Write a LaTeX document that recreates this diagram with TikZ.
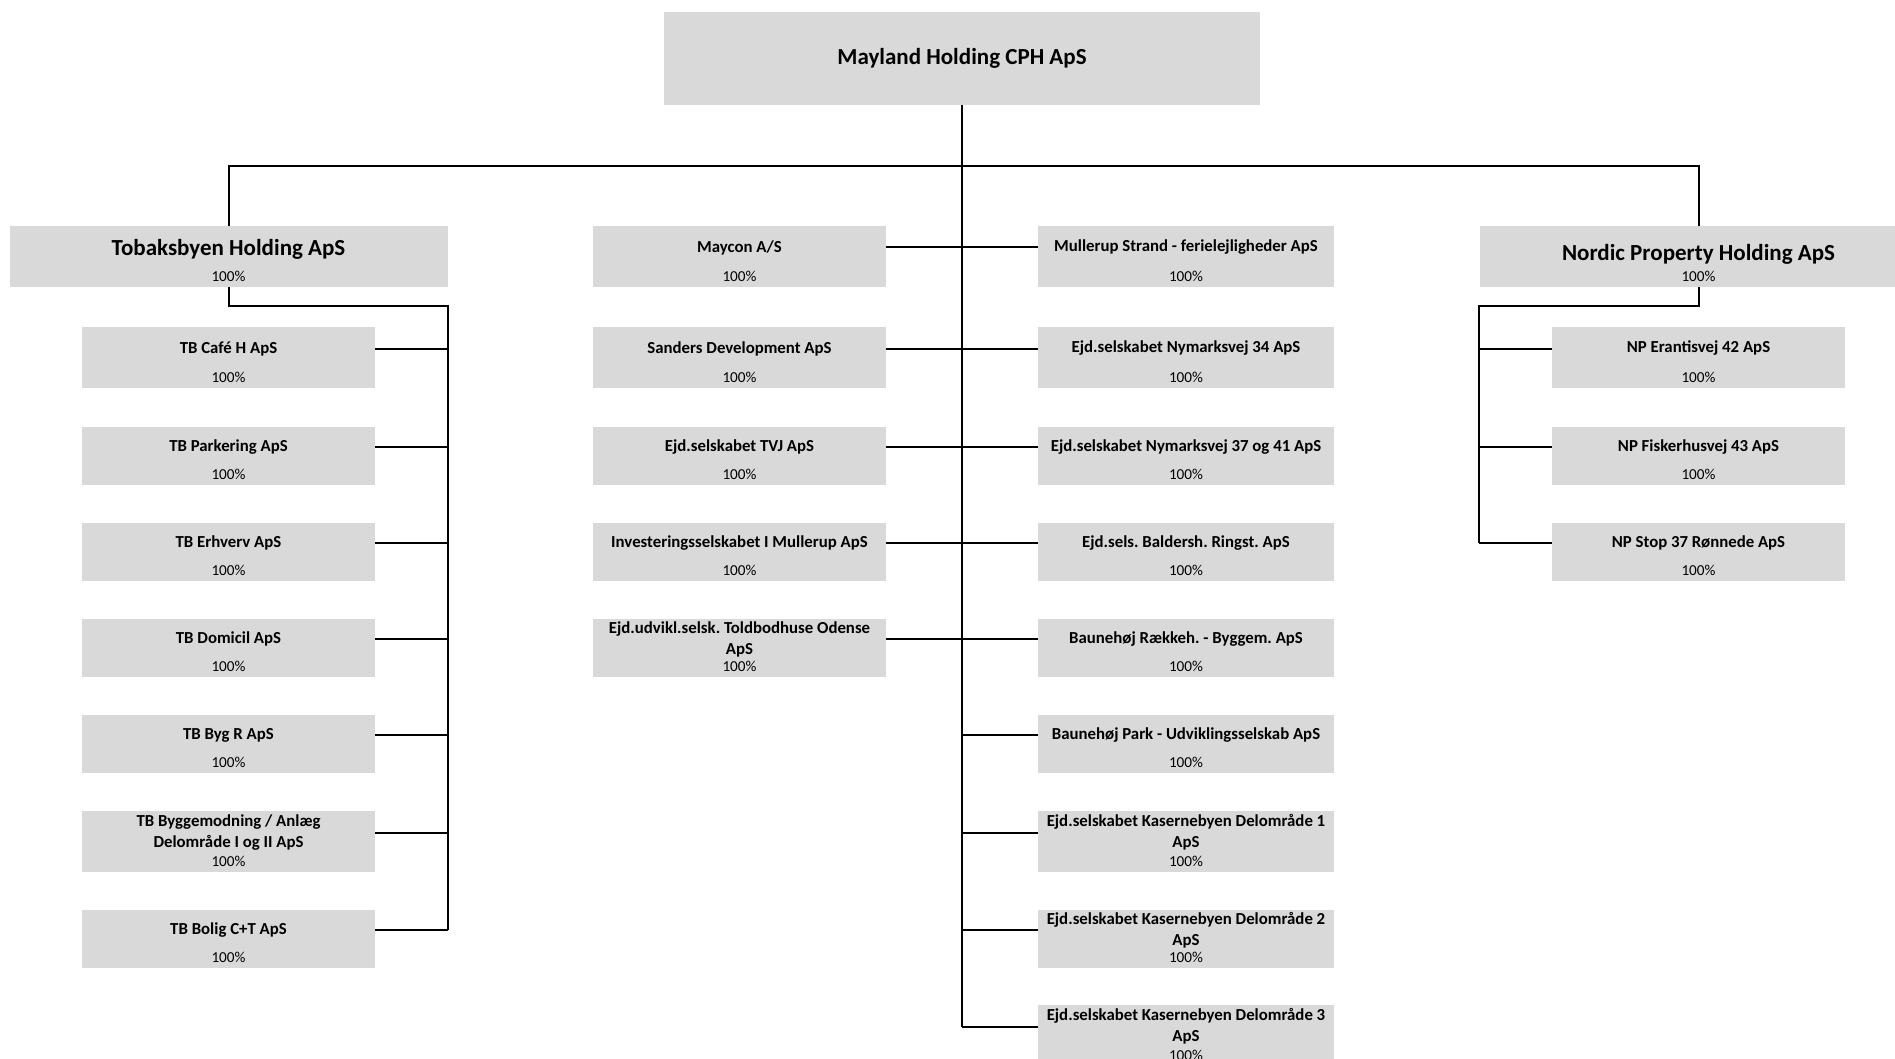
\documentclass[tikz,border=0pt]{standalone}
\usepackage{fontspec}
\setmainfont{Carlito}
\usepackage{tikz}
\frenchspacing
\definecolor{boxgray}{HTML}{D9D9D9}
\tikzset{
  unit/.style={fill=boxgray, inner sep=0pt, minimum width=293pt, minimum height=58pt},
  tall/.style={minimum height=61pt},
  big/.style={font=\bfseries\fontsize{23}{27}\selectfont},
  ttl/.style={font=\bfseries\fontsize{16.8}{21}\selectfont, align=center, inner sep=0pt},
  pct/.style={font=\fontsize{15.2}{17}\selectfont, inner sep=0pt, anchor=base, yshift=5.5pt},
  link/.style={line width=2pt}
}
\begin{document}
\begin{tikzpicture}[x=1pt,y=-1pt]
\useasboundingbox (0,0) rectangle (1895,1059);
\clip (0,0) rectangle (1895,1059);
% owner
\node[unit, big, minimum width=596pt, minimum height=93pt] (mayland) at (962,58.5) {Mayland Holding CPH ApS};
% holdings
\node[unit, tall, minimum width=438pt, label={[ttl,big,yshift=7pt]center:Tobaksbyen Holding ApS}, label={[pct]south:100\%}] (tobaksbyen) at (228.5,256.5) {};
\node[unit, tall, minimum width=438pt, label={[ttl,big,yshift=2pt]center:Nordic Property Holding ApS}, label={[pct]south:100\%}] (nordic) at (1698.5,256.5) {};
% Tobaksbyen companies
\node[unit, tall, label={[ttl,yshift=9pt]center:TB Café H ApS}, label={[pct]south:100\%}] (tbcafe) at (228.5,357.5) {};
\node[unit, label={[ttl,yshift=9pt]center:TB Parkering ApS}, label={[pct]south:100\%}] (tbparkering) at (228.5,456) {};
\node[unit, label={[ttl,yshift=9pt]center:TB Erhverv ApS}, label={[pct]south:100\%}] (tberhverv) at (228.5,552) {};
\node[unit, label={[ttl,yshift=9pt]center:TB Domicil ApS}, label={[pct]south:100\%}] (tbdomicil) at (228.5,648) {};
\node[unit, label={[ttl,yshift=9pt]center:TB Byg R ApS}, label={[pct]south:100\%}] (tbbygr) at (228.5,744) {};
\node[unit, tall, label={[ttl,yshift=9pt]center:TB Byggemodning / Anlæg\\Delområde I og II ApS}, label={[pct]south:100\%}] (tbbyggemodning) at (228.5,841.5) {};
\node[unit, label={[ttl,yshift=9pt]center:TB Bolig C+T ApS}, label={[pct]south:100\%}] (tbbolig) at (228.5,939) {};
% middle left column
\node[unit, tall, label={[ttl,yshift=9pt]center:Maycon A/S}, label={[pct]south:100\%}] (maycon) at (739.5,256.5) {};
\node[unit, tall, label={[ttl,yshift=9pt]center:Sanders Development ApS}, label={[pct]south:100\%}] (sanders) at (739.5,357.5) {};
\node[unit, label={[ttl,yshift=9pt]center:Ejd.selskabet TVJ ApS}, label={[pct]south:100\%}] (tvj) at (739.5,456) {};
\node[unit, label={[ttl,yshift=9pt]center:Investeringsselskabet I Mullerup ApS}, label={[pct]south:100\%}] (investering) at (739.5,552) {};
\node[unit, label={[ttl,yshift=9pt]center:Ejd.udvikl.selsk. Toldbodhuse Odense\\ApS}, label={[pct]south:100\%}] (toldbodhuse) at (739.5,648) {};
% middle right column
\node[unit, tall, minimum width=296pt, label={[ttl,yshift=9pt]center:Mullerup Strand - ferielejligheder ApS}, label={[pct]south:100\%}] (mullerup) at (1186,256.5) {};
\node[unit, tall, minimum width=296pt, label={[ttl,yshift=9pt]center:Ejd.selskabet Nymarksvej 34 ApS}, label={[pct]south:100\%}] (nymarks34) at (1186,357.5) {};
\node[unit, minimum width=296pt, label={[ttl,yshift=9pt]center:Ejd.selskabet Nymarksvej 37 og 41 ApS}, label={[pct]south:100\%}] (nymarks37) at (1186,456) {};
\node[unit, minimum width=296pt, label={[ttl,yshift=9pt]center:Ejd.sels. Baldersh. Ringst. ApS}, label={[pct]south:100\%}] (baldersh) at (1186,552) {};
\node[unit, minimum width=296pt, label={[ttl,yshift=9pt]center:Baunehøj Rækkeh. - Byggem. ApS}, label={[pct]south:100\%}] (raekkeh) at (1186,648) {};
\node[unit, minimum width=296pt, label={[ttl,yshift=9pt]center:Baunehøj Park - Udviklingsselskab ApS}, label={[pct]south:100\%}] (baunepark) at (1186,744) {};
\node[unit, tall, minimum width=296pt, label={[ttl,yshift=9pt]center:Ejd.selskabet Kasernebyen Delområde 1\\ApS}, label={[pct]south:100\%}] (kaserne1) at (1186,841.5) {};
\node[unit, minimum width=296pt, label={[ttl,yshift=9pt]center:Ejd.selskabet Kasernebyen Delområde 2\\ApS}, label={[pct]south:100\%}] (kaserne2) at (1186,939) {};
\node[unit, tall, minimum width=296pt, label={[ttl,yshift=9pt]center:Ejd.selskabet Kasernebyen Delområde 3\\ApS}, label={[pct]south:100\%}] (kaserne3) at (1186,1035.5) {};
% Nordic companies
\node[unit, tall, label={[ttl,yshift=9pt]center:NP Erantisvej 42 ApS}, label={[pct]south:100\%}] (erantis) at (1698.5,357.5) {};
\node[unit, label={[ttl,yshift=9pt]center:NP Fiskerhusvej 43 ApS}, label={[pct]south:100\%}] (fiskerhus) at (1698.5,456) {};
\node[unit, label={[ttl,yshift=9pt]center:NP Stop 37 Rønnede ApS}, label={[pct]south:100\%}] (stop37) at (1698.5,552) {};
% lines
\coordinate (bus) at (962,166);
\draw[link] (mayland.south) -- ([yshift=9pt]kaserne3.west -| mayland.south);
\draw[link] (tobaksbyen.north) |- (bus) -| (nordic.north);
\draw[link] (tobaksbyen.south) |- ([yshift=-19pt]tobaksbyen.south east) -- ([yshift=9pt]tbbolig.east -| tobaksbyen.east);
\draw[link] (nordic.south) |- ([yshift=-19pt]nordic.south west) -- ([yshift=9pt]stop37.west -| nordic.west);
\foreach \n in {tbcafe,tbparkering,tberhverv,tbdomicil,tbbygr,tbbyggemodning,tbbolig}
  \draw[link] ([yshift=9pt]\n.east) -- ([yshift=9pt]\n.east -| tobaksbyen.east);
\foreach \n in {maycon,sanders,tvj,investering,toldbodhuse}
  \draw[link] ([yshift=9pt]\n.east) -- ([yshift=9pt]\n.east -| mayland.south);
\foreach \n in {mullerup,nymarks34,nymarks37,baldersh,raekkeh,baunepark,kaserne1,kaserne2,kaserne3}
  \draw[link] ([yshift=9pt]\n.west) -- ([yshift=9pt]\n.west -| mayland.south);
\foreach \n in {erantis,fiskerhus,stop37}
  \draw[link] ([yshift=9pt]\n.west) -- ([yshift=9pt]\n.west -| nordic.west);
\end{tikzpicture}
\end{document}
